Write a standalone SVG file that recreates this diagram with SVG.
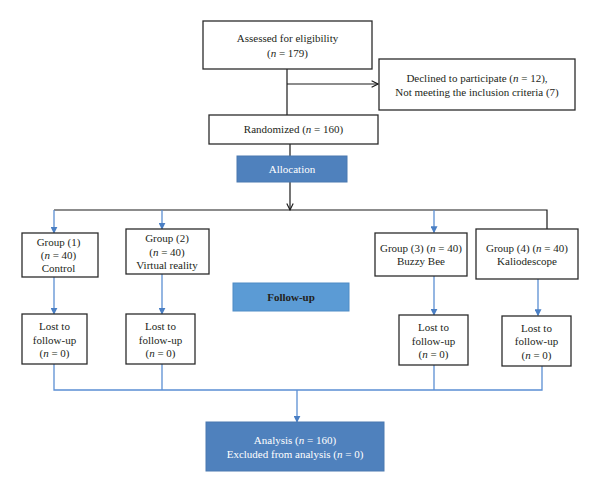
<svg xmlns="http://www.w3.org/2000/svg" width="600" height="493" viewBox="0 0 600 493">
<defs>
<style>
.box{fill:#ffffff;stroke:#2b2b2b;stroke-width:1.3}
.alloc{fill:#4f81bd;stroke:#4a78b0;stroke-width:1}
.fup{fill:#5b9bd5;stroke:#4f8cc6;stroke-width:1}
.t{font-family:"Liberation Serif","Times New Roman",serif;font-size:11px;fill:#231f20;text-anchor:middle}
.w{fill:#ffffff}
.b{font-weight:bold}
.k{fill:none;stroke:#1a1a1a;stroke-width:1.2}
.bl{fill:none;stroke:#5b8fd3;stroke-width:1.3}
</style>
<marker id="ak" viewBox="0 0 10 10" refX="9" refY="5" markerWidth="8" markerHeight="8" orient="auto" markerUnits="userSpaceOnUse">
<path d="M1,1 L9,5 L1,9" fill="none" stroke="#1a1a1a" stroke-width="1.4"/>
</marker>
<marker id="ab" viewBox="0 0 10 10" refX="9" refY="5" markerWidth="7" markerHeight="7" orient="auto" markerUnits="userSpaceOnUse">
<path d="M0,0 L10,5 L0,10 Z" fill="#4a7fc4"/>
</marker>
</defs>
<rect width="600" height="493" fill="#ffffff"/>
<g id="connectors">
<path class="k" d="M287,69 V115"/>
<path class="k" d="M287,84 H378" marker-end="url(#ak)"/>
<path class="k" d="M290,144 V156"/>
<path class="k" d="M290,182 V210" marker-end="url(#ak)"/>
<path class="k" d="M54,210 H547 V229"/>
<path class="bl" d="M54,210 V233" marker-end="url(#ab)"/>
<path class="bl" d="M162,210 V229" marker-end="url(#ab)"/>
<path class="bl" d="M434,210 V232.5" marker-end="url(#ab)"/>
<path class="bl" d="M54,277 V314" marker-end="url(#ab)"/>
<path class="bl" d="M162,274 V314" marker-end="url(#ab)"/>
<path class="bl" d="M434,276 V315" marker-end="url(#ab)"/>
<path class="bl" d="M538,279 V315.5" marker-end="url(#ab)"/>
<path class="bl" d="M54,364 V390 H542 V365.5 M162,364 V390 M434,365 V390"/>
<path class="bl" d="M297,390 V422" marker-end="url(#ab)"/>
</g>
<g id="assessed">
<rect class="box" x="203" y="21" width="169" height="48"/>
<text class="t" x="287.5" y="42">Assessed for eligibility</text>
<text class="t" x="287.5" y="57">(<tspan font-style="italic">n</tspan> = 179)</text>
</g>
<g id="declined">
<rect class="box" x="379" y="59" width="196" height="51"/>
<text class="t" x="477" y="82">Declined to participate (<tspan font-style="italic">n</tspan> = 12),</text>
<text class="t" x="477" y="95.5">Not meeting the inclusion criteria (7)</text>
</g>
<g id="randomized">
<rect class="box" x="209" y="115" width="169" height="29"/>
<text class="t" x="293.5" y="132.5">Randomized (<tspan font-style="italic">n</tspan> = 160)</text>
</g>
<g id="allocation">
<rect class="alloc" x="237" y="156" width="110" height="26"/>
<text class="t w" x="292" y="172.5">Allocation</text>
</g>
<g id="group1">
<rect class="box" x="22" y="233" width="76" height="44"/>
<text class="t" x="58.5" y="245.5">Group (1)</text>
<text class="t" x="58.5" y="259">(<tspan font-style="italic">n</tspan> = 40)</text>
<text class="t" x="58.5" y="272">Control</text>
</g>
<g id="group2">
<rect class="box" x="126" y="229" width="83" height="45"/>
<text class="t" x="167" y="242">Group (2)</text>
<text class="t" x="167" y="255.5">(<tspan font-style="italic">n</tspan> = 40)</text>
<text class="t" x="167" y="268.5">Virtual reality</text>
</g>
<g id="group3">
<rect class="box" x="375" y="233" width="92" height="43"/>
<text class="t" x="421" y="251.5">Group (3) (<tspan font-style="italic">n</tspan> = 40)</text>
<text class="t" x="421" y="265">Buzzy Bee</text>
</g>
<g id="group4">
<rect class="box" x="476" y="229" width="102" height="50"/>
<text class="t" x="527" y="251.5">Group (4) (<tspan font-style="italic">n</tspan> = 40)</text>
<text class="t" x="527" y="265">Kaliodescope</text>
</g>
<g id="followup">
<rect class="fup" x="233" y="283" width="116" height="28"/>
<text class="t b" x="291" y="300.5">Follow-up</text>
</g>
<g id="lost1">
<rect class="box" x="22" y="314" width="65" height="50"/>
<text class="t" x="54.5" y="330">Lost to</text>
<text class="t" x="54.5" y="343.5">follow-up</text>
<text class="t" x="54.5" y="357">(<tspan font-style="italic">n</tspan> = 0)</text>
</g>
<g id="lost2">
<rect class="box" x="126" y="314" width="69" height="50"/>
<text class="t" x="160.5" y="330">Lost to</text>
<text class="t" x="160.5" y="343.5">follow-up</text>
<text class="t" x="160.5" y="357">(<tspan font-style="italic">n</tspan> = 0)</text>
</g>
<g id="lost3">
<rect class="box" x="399" y="315" width="69" height="50"/>
<text class="t" x="433.5" y="331">Lost to</text>
<text class="t" x="433.5" y="344.5">follow-up</text>
<text class="t" x="433.5" y="358">(<tspan font-style="italic">n</tspan> = 0)</text>
</g>
<g id="lost4">
<rect class="box" x="502" y="316" width="69" height="50"/>
<text class="t" x="536.5" y="331.5">Lost to</text>
<text class="t" x="536.5" y="345">follow-up</text>
<text class="t" x="536.5" y="358.5">(<tspan font-style="italic">n</tspan> = 0)</text>
</g>
<g id="analysis">
<rect class="alloc" x="206" y="422" width="178" height="49"/>
<text class="t w" x="295" y="444">Analysis (<tspan font-style="italic">n</tspan> = 160)</text>
<text class="t w" x="295" y="457.5">Excluded from analysis (<tspan font-style="italic">n</tspan> = 0)</text>
</g>
</svg>
